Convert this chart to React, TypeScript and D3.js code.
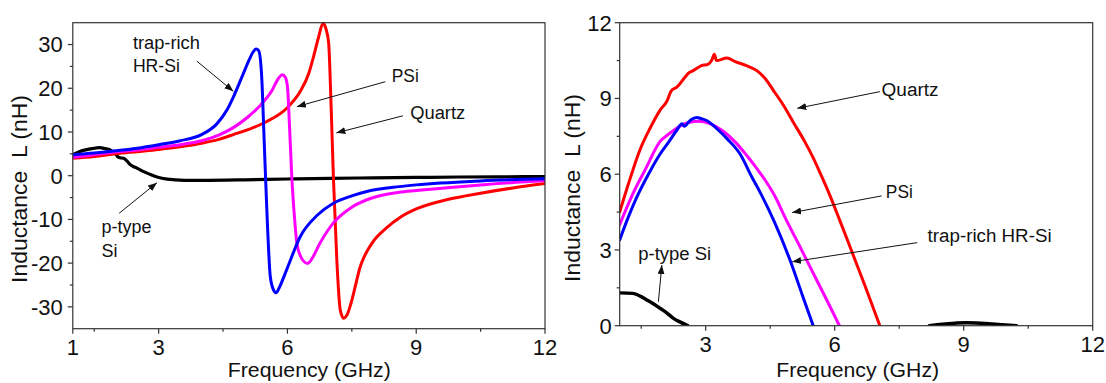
import React from "react";
import * as d3 from "d3";

// ---------- Left panel data (Frequency GHz, Inductance nH) ----------
const leftTrapF = [1, 1.5, 2, 2.5, 3, 3.5, 4, 4.35, 4.6, 4.74, 4.97, 5.1, 5.2, 5.27, 5.33, 5.4, 5.46, 5.52, 5.6, 5.67, 5.74, 5.8, 5.99, 6.3, 6.7, 7.07, 7.5, 7.85, 8.6, 9, 10.5, 12];
const leftTrapL = [4.8, 5.2, 5.7, 6.3, 7.1, 8.0, 9.4, 11.8, 15.2, 18.0, 23.3, 26.3, 28.3, 29.0, 28.6, 22.7, 7.5, -7.8, -23, -26, -26.8, -25.8, -21.3, -13.9, -9.0, -6.3, -4.6, -3.6, -2.5, -2.1, -1.2, -0.7];

const leftPsiF = [1, 1.5, 2, 2.5, 3, 3.5, 4, 4.4, 4.74, 5.1, 5.36, 5.64, 5.8, 5.88, 5.95, 6.0, 6.05, 6.1, 6.16, 6.22, 6.3, 6.38, 6.47, 6.55, 6.76, 7.07, 7.5, 7.85, 8.6, 9, 10.5, 12];
const leftPsiL = [4.2, 4.8, 5.4, 5.9, 6.5, 7.1, 8.0, 9.3, 11.0, 13.6, 16.0, 19.5, 22.4, 23.1, 22.5, 20.4, 11.0, 0.0, -9.0, -15.4, -18.3, -19.6, -20.1, -19.3, -15.4, -10.8, -7.2, -5.5, -3.8, -3.4, -2.1, -1.1];

const leftQuartzF = [1, 1.5, 2, 2.5, 3, 3.5, 4, 4.4, 4.74, 5.2, 5.52, 5.99, 6.3, 6.5, 6.61, 6.72, 6.83, 6.9, 6.96, 7.02, 7.07, 7.15, 7.23, 7.31, 7.38, 7.5, 7.6, 7.69, 7.8, 8.0, 8.3, 8.63, 9, 9.75, 10.5, 11.25, 12];
const leftQuartzL = [4.0, 4.4, 5.0, 5.5, 6.0, 6.6, 7.4, 8.3, 9.4, 11.0, 12.4, 15.5, 19.3, 23.5, 27.3, 31.5, 34.9, 33.5, 30.4, 15.1, -0.2, -19.2, -30.7, -32.6, -32.0, -28.5, -24.5, -21.0, -18.3, -15.0, -12.0, -9.5, -7.6, -5.4, -4.0, -2.8, -1.8];

const leftPtypeF = [1, 1.15, 1.3, 1.45, 1.63, 1.75, 1.87, 1.93, 1.98, 2.04, 2.1, 2.18, 2.26, 2.33, 2.41, 2.5, 2.64, 2.8, 2.96, 3.2, 3.6, 4, 5, 6, 7, 8, 9, 10, 11, 12];
const leftPtypeL = [4.8, 5.5, 5.9, 6.2, 6.4, 6.2, 5.9, 5.5, 5.2, 4.4, 4.1, 4.0, 3.4, 2.6, 2.1, 1.7, 1.0, 0.3, -0.3, -0.8, -1.05, -1.07, -0.95, -0.75, -0.6, -0.5, -0.4, -0.3, -0.25, -0.2];

// ---------- Right panel data ----------
const rightQuartzF = [1, 1.2, 1.47, 1.7, 1.94, 2.1, 2.2, 2.33, 2.5, 2.6, 2.71, 2.9, 3.05, 3.15, 3.2, 3.25, 3.49, 3.7, 3.95, 4.19, 4.4, 4.57, 4.8, 5.04, 5.3, 5.5, 5.7, 5.89, 6.1, 6.4, 6.7, 7.05];
const rightQuartzL = [4.5, 5.6, 6.96, 7.8, 8.54, 8.9, 9.3, 9.45, 9.8, 10.0, 10.1, 10.3, 10.35, 10.55, 10.75, 10.5, 10.6, 10.45, 10.3, 10.1, 9.75, 9.33, 8.75, 8.05, 7.3, 6.65, 5.9, 5.15, 4.25, 2.93, 1.6, 0];

const rightPsiF = [1, 1.3, 1.6, 1.94, 2.15, 2.35, 2.6, 2.85, 3.1, 3.41, 3.7, 3.95, 4.2, 4.38, 4.65, 4.8, 5.2, 5.58, 5.85, 6.11];
const rightPsiL = [4.0, 5.2, 6.2, 7.3, 7.6, 7.85, 8.05, 8.1, 8.0, 7.7, 7.25, 6.75, 6.2, 5.77, 5.0, 4.45, 3.1, 1.81, 0.9, 0];

const rightTrapF = [1, 1.2, 1.4, 1.7, 1.94, 2.15, 2.33, 2.45, 2.5, 2.65, 2.79, 2.9, 3.05, 3.26, 3.5, 3.8, 4.07, 4.26, 4.6, 4.96, 5.25, 5.5];
const rightTrapL = [3.4, 4.3, 5.1, 6.1, 6.8, 7.3, 7.75, 8.0, 7.9, 8.15, 8.25, 8.2, 8.1, 7.8, 7.4, 6.8, 5.9, 5.3, 4.1, 2.6, 1.2, 0];

const rightPtypeF1 = [1, 1.3, 1.5, 1.63, 1.8, 1.94, 2.1, 2.25, 2.4, 2.58];
const rightPtypeL1 = [1.3, 1.28, 1.15, 1.02, 0.85, 0.69, 0.5, 0.29, 0.15, 0];
const rightPtypeF2 = [8.2, 8.5, 8.8, 9.07, 9.4, 9.8, 10.23];
const rightPtypeL2 = [0, 0.06, 0.1, 0.12, 0.1, 0.05, 0];

// ---------- Ticks ----------
const leftXMajor = [1, 3, 6, 9, 12];
const leftXMinor = [1.5, 4.5, 7.5, 10.5];
const leftYMajor = [-30, -20, -10, 0, 10, 20, 30];
const leftYMinor = [-25, -15, -5, 5, 15, 25];
const rightXMajor = [3, 6, 9, 12];
const rightXMinor = [1.5, 4.5, 7.5, 10.5];
const rightYMajor = [0, 3, 6, 9, 12];
const rightYMinor = [1.5, 4.5, 7.5, 10.5];

const BLUE = "#0000ff";
const MAGENTA = "#ff00ff";
const RED = "#ff0000";
const BLACK = "#000000";
const FONT = "'Liberation Sans', Arial, Helvetica, sans-serif";

type Series = { f: number[]; l: number[]; color: string; width: number };
type Label = { text: string; f: number; l: number; len: number };
type Arrow = { f0: number; l0: number; f1: number; l1: number };

const leftSeries: Series[] = [
  { f: leftPtypeF, l: leftPtypeL, color: BLACK, width: 3.2 },
  { f: leftQuartzF, l: leftQuartzL, color: RED, width: 3 },
  { f: leftPsiF, l: leftPsiL, color: MAGENTA, width: 3 },
  { f: leftTrapF, l: leftTrapL, color: BLUE, width: 3 },
];
const rightSeries: Series[] = [
  { f: rightPtypeF1, l: rightPtypeL1, color: BLACK, width: 3.5 },
  { f: rightPtypeF2, l: rightPtypeL2, color: BLACK, width: 3.5 },
  { f: rightQuartzF, l: rightQuartzL, color: RED, width: 3 },
  { f: rightPsiF, l: rightPsiL, color: MAGENTA, width: 3 },
  { f: rightTrapF, l: rightTrapL, color: BLUE, width: 3 },
];

const leftLabels: Label[] = [
  { text: "trap-rich", f: 2.4, l: 28.9, len: 67 },
  { text: "HR-Si", f: 2.4, l: 23.8, len: 47 },
  { text: "PSi", f: 8.43, l: 21.5, len: 27 },
  { text: "Quartz", f: 8.86, l: 12.9, len: 55 },
  { text: "p-type", f: 1.67, l: -13.2, len: 50 },
  { text: "Si", f: 1.67, l: -18.7, len: 16 },
];
const leftArrows: Arrow[] = [
  { f0: 3.89, l0: 26.2, f1: 4.74, l1: 19.3 },
  { f0: 8.28, l0: 21.5, f1: 6.22, l1: 15.8 },
  { f0: 8.69, l0: 13.7, f1: 7.14, l1: 9.8 },
  { f0: 2.08, l0: -8.6, f1: 2.96, l1: -1.6 },
];
const rightLabels: Label[] = [
  { text: "Quartz", f: 7.09, l: 9.1, len: 57 },
  { text: "PSi", f: 7.19, l: 5.05, len: 27 },
  { text: "trap-rich HR-Si", f: 8.16, l: 3.33, len: 124 },
  { text: "p-type Si", f: 1.43, l: 2.6, len: 73 },
];
const rightArrows: Arrow[] = [
  { f0: 7.05, l0: 9.27, f1: 5.13, l1: 8.61 },
  { f0: 7.09, l0: 5.14, f1: 5.01, l1: 4.48 },
  { f0: 7.92, l0: 3.29, f1: 5.01, l1: 2.53 },
  { f0: 1.9, l0: 0.95, f1: 1.98, l1: 2.4 },
];

type PanelProps = {
  id: string;
  left: number;
  right: number;
  top: number;
  bottom: number;
  yDomain: [number, number];
  xMajor: number[];
  xMinor: number[];
  yMajor: number[];
  yMinor: number[];
  series: Series[];
  labels: Label[];
  arrows: Arrow[];
  yLabelGap: number;
  yTitleX: number;
  yTitleCenter: number;
  xTitleCenter: number;
};

function Panel(p: PanelProps) {
  const x = d3.scaleLinear().domain([1, 12]).range([p.left, p.right]);
  const y = d3.scaleLinear().domain(p.yDomain).range([p.bottom, p.top]);
  const line = d3
    .line<[number, number]>()
    .x((d) => x(d[0]))
    .y((d) => y(d[1]))
    .curve(d3.curveMonotoneX);
  const axisColor = "#333";
  return (
    <g>
      <defs>
        <clipPath id={`clip-${p.id}`}>
          <rect x={p.left} y={p.top - 2} width={p.right - p.left} height={p.bottom - p.top + 2} />
        </clipPath>
      </defs>
      <g clipPath={`url(#clip-${p.id})`}>
        {p.series.map((s, i) => (
          <path
            key={i}
            d={line(s.f.map((f, j) => [f, s.l[j]] as [number, number])) || ""}
            fill="none"
            stroke={s.color}
            strokeWidth={s.width}
            strokeLinejoin="round"
            strokeLinecap="round"
          />
        ))}
      </g>
      <rect
        x={p.left}
        y={p.top}
        width={p.right - p.left}
        height={p.bottom - p.top}
        fill="none"
        stroke={axisColor}
        strokeWidth={1.2}
      />
      {p.xMajor.map((t) => (
        <g key={`xm${t}`}>
          <line x1={x(t)} x2={x(t)} y1={p.bottom} y2={p.bottom + 5} stroke={axisColor} strokeWidth={1.2} />
          <text
            x={x(t)}
            y={p.bottom + 26}
            textAnchor="middle"
            fontSize={22}
            fontFamily={FONT}
            fill="#111"
          >
            {t}
          </text>
        </g>
      ))}
      {p.xMinor.map((t) => (
        <line key={`xn${t}`} x1={x(t)} x2={x(t)} y1={p.bottom} y2={p.bottom + 3} stroke={axisColor} strokeWidth={1.2} />
      ))}
      {p.yMajor.map((t) => (
        <g key={`ym${t}`}>
          <line x1={p.left - 5} x2={p.left} y1={y(t)} y2={y(t)} stroke={axisColor} strokeWidth={1.2} />
          <text
            x={p.left - p.yLabelGap}
            y={y(t)}
            dy="0.36em"
            textAnchor="end"
            fontSize={22}
            fontFamily={FONT}
            fill="#111"
          >
            {t}
          </text>
        </g>
      ))}
      {p.yMinor.map((t) => (
        <line key={`yn${t}`} x1={p.left - 3} x2={p.left} y1={y(t)} y2={y(t)} stroke={axisColor} strokeWidth={1.2} />
      ))}
      <text
        x={p.xTitleCenter}
        y={377}
        textAnchor="middle"
        fontSize={21}
        fontFamily={FONT}
        fill="#111"
        textLength={163}
        lengthAdjust="spacingAndGlyphs"
      >
        Frequency (GHz)
      </text>
      <text
        transform={`translate(${p.yTitleX},${p.yTitleCenter}) rotate(-90)`}
        textAnchor="middle"
        fontSize={22}
        fontFamily={FONT}
        fill="#111"
        textLength={188}
        lengthAdjust="spacingAndGlyphs"
        style={{ whiteSpace: "pre" }}
      >
        {"Inductance  L (nH)"}
      </text>
      {p.arrows.map((a, i) => (
        <line
          key={`ar${i}`}
          x1={x(a.f0)}
          y1={y(a.l0)}
          x2={x(a.f1)}
          y2={y(a.l1)}
          stroke="#111"
          strokeWidth={1}
          markerEnd="url(#arrowhead)"
        />
      ))}
      {p.labels.map((lb, i) => (
        <text
          key={`lb${i}`}
          x={x(lb.f)}
          y={y(lb.l)}
          fontSize={18}
          fontFamily={FONT}
          fill="#111"
          textLength={lb.len}
          lengthAdjust="spacingAndGlyphs"
        >
          {lb.text}
        </text>
      ))}
    </g>
  );
}

export default function App() {
  return (
    <svg
      width={1106}
      height={383}
      viewBox="0 0 1106 383"
      style={{ position: "absolute", left: 0, top: 0, background: "#fff" }}
    >
      <defs>
        <marker
          id="arrowhead"
          markerUnits="userSpaceOnUse"
          markerWidth={9}
          markerHeight={7}
          refX={9}
          refY={3.5}
          orient="auto"
        >
          <path d="M0,0 L9,3.5 L0,7 z" fill="#111" />
        </marker>
      </defs>
      <rect x={0} y={0} width={1106} height={383} fill="#fff" />
      <Panel
        id="left"
        left={72.8}
        right={545}
        top={22.7}
        bottom={328.7}
        yDomain={[-35, 35]}
        xMajor={leftXMajor}
        xMinor={leftXMinor}
        yMajor={leftYMajor}
        yMinor={leftYMinor}
        series={leftSeries}
        labels={leftLabels}
        arrows={leftArrows}
        yLabelGap={10}
        yTitleX={27}
        yTitleCenter={189}
        xTitleCenter={309.3}
      />
      <Panel
        id="right"
        left={619.7}
        right={1092.7}
        top={22.7}
        bottom={325.7}
        yDomain={[0, 12]}
        xMajor={rightXMajor}
        xMinor={rightXMinor}
        yMajor={rightYMajor}
        yMinor={rightYMinor}
        series={rightSeries}
        labels={rightLabels}
        arrows={rightArrows}
        yLabelGap={8}
        yTitleX={580}
        yTitleCenter={188}
        xTitleCenter={857.7}
      />
    </svg>
  );
}
